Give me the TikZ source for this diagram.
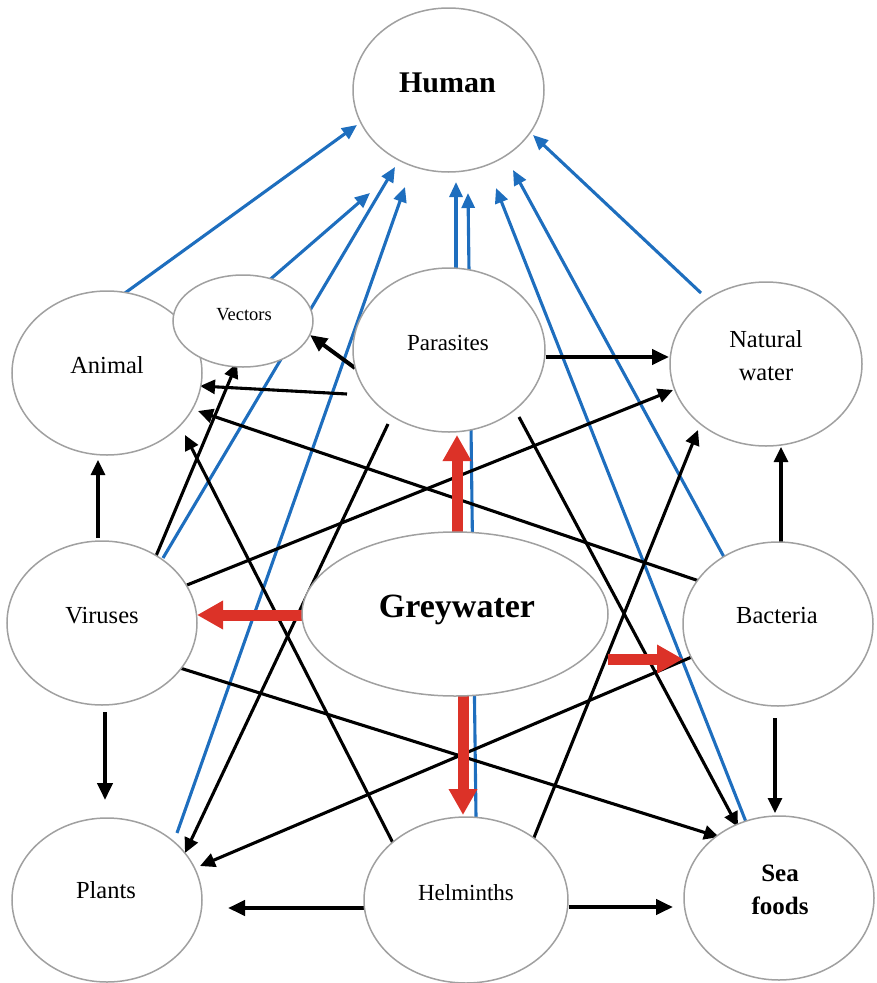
\documentclass[tikz,border=0pt]{standalone}
\usepackage{fontspec}
\setmainfont{Liberation Serif}
\usetikzlibrary{arrows.meta,calc,shapes.geometric}
\definecolor{ellgray}{RGB}{160,160,160}
\definecolor{bluec}{RGB}{30,110,190}
\definecolor{redc}{RGB}{220,50,40}
\pgfdeclarelayer{bg}
\pgfsetlayers{bg,main}
\begin{document}
\begin{tikzpicture}[x=1pt,y=-1pt,
  ell/.style={ellipse, draw=ellgray, line width=1.5pt, fill=white, inner sep=0pt},
  lbl/.style={anchor=base, inner sep=0pt, font=\fontsize{24.5}{26}\selectfont},
  blk/.style={draw=black, line width=3.1pt, -{Triangle[length=15pt,width=14pt]}},
  blkt/.style={draw=black, line width=4pt, -{Triangle[length=17pt,width=15pt]}},
  blu/.style={draw=bluec, line width=3.1pt, -{Triangle[length=15pt,width=13pt]}},
  rarr/.style={draw=redc, line width=11pt, -{Triangle[length=26pt,width=27pt]}}]
\useasboundingbox (0,0) rectangle (876,983);
% nodes
\node[ell, minimum width=191pt, minimum height=164pt] (hum) at (448.5,90) {};
\node[ell, minimum width=190pt, minimum height=164pt] (ani) at (107,373) {};
\node[ell, minimum width=140pt, minimum height=92pt] (vec) at (243,321) {};
\node[ell, minimum width=192pt, minimum height=164pt] (par) at (449,350) {};
\node[ell, minimum width=192pt, minimum height=164pt] (nat) at (766,364) {};
\node[ell, minimum width=190pt, minimum height=164pt] (vir) at (102,623) {};
\node[ell, minimum width=306pt, minimum height=164pt] (gre) at (455,614) {};
\node[ell, minimum width=190pt, minimum height=164pt] (bac) at (778,624) {};
\node[ell, minimum width=190pt, minimum height=164pt] (pla) at (107,900) {};
\node[ell, minimum width=204pt, minimum height=166pt] (hel) at (466,900) {};
\node[ell, minimum width=190pt, minimum height=164pt] (sea) at (779,898) {};
% labels
\node[lbl, font=\fontsize{30}{32}\selectfont\bfseries] (humt) at (447.5,92) {Human};
\node[lbl] (anit) at (107,373) {Animal};
\node[lbl, font=\fontsize{18.5}{20}\selectfont] (vect) at (244,320) {Vectors};
\node[lbl, font=\fontsize{23}{25}\selectfont] (part) at (448,350) {Parasites};
\node[lbl] (natt1) at (766,347) {Natural};
\node[lbl] (natt2) at (766,380) {water};
\node[lbl] (virt) at (102,623) {Viruses};
\node[lbl, font=\fontsize{34}{36}\selectfont\bfseries] (gret) at (457,617) {Greywater};
\node[lbl] (bact) at (777,623) {Bacteria};
\node[lbl] (plat) at (106,898) {Plants};
\node[lbl, font=\fontsize{23}{25}\selectfont] (helt) at (466,900) {Helminths};
\node[lbl, font=\fontsize{25}{27}\selectfont\bfseries] (seat1) at (780,881) {Sea};
\node[lbl, font=\fontsize{25}{27}\selectfont\bfseries] (seat2) at (780,914) {foods};
\begin{pgfonlayer}{bg}
% blue arrows to Human
\draw[blu] ($(ani)+(18,-80)$) -- ($(hum)+(-91.5,35)$);
\draw[blu] ($(vec)+(23,-38)$) -- ($(hum)+(-78.5,103)$);
\draw[blu] ($(vir)+(61,-65)$) -- ($(hum)+(-53.5,77)$);
\draw[blu] ($(pla)+(70,-67)$) -- ($(hum)+(-43.5,97)$);
\draw[blu] ($(par)+(7,-82)$) -- ($(hum)+(7.5,92)$);
\draw[blu] ($(hel)+(10,-83)$) -- ($(hum)+(19.5,103)$);
\draw[blu] ($(sea)+(-31,-71)$) -- ($(hum)+(47.5,98)$);
\draw[blu] ($(bac)+(-54,-67)$) -- ($(hum)+(64.5,80)$);
\draw[blu] ($(nat)+(-65,-71)$) -- ($(hum)+(84.5,45)$);
% black arrows
\draw[blkt] ($(par)+(-94,18)$) -- ($(vec)+(67,14)$);
\draw[blk] ($(par)+(-102,44)$) -- ($(ani)+(93,13)$);
\draw[blk] ($(bac)+(-73,-41)$) -- ($(ani)+(91,38)$);
\draw[blk] ($(hel)+(-72,-55)$) -- ($(ani)+(78,62)$);
\draw[blk] ($(vir)+(41,-36)$) -- ($(vec)+(-6,42)$);
\draw[blk] ($(vir)+(85,-38)$) -- ($(nat)+(-93,26)$);
\draw[blk] ($(par)+(-61,74)$) -- ($(pla)+(78,-47)$);
\draw[blk] ($(bac)+(-84,32)$) -- ($(pla)+(93,-34)$);
\draw[blk] ($(vir)+(78,45)$) -- ($(sea)+(-60,-61)$);
\draw[blk] ($(par)+(70,67)$) -- ($(sea)+(-41,-71)$);
\draw[blk] ($(hel)+(67,-60)$) -- ($(nat)+(-68,66)$);
\draw[blkt] ($(par)+(97,7)$) -- ($(nat)+(-97,-7)$);
\draw[blk] ($(vir)+(-4,-85)$) -- ($(ani)+(-9,87)$);
\draw[blkt] ($(vir)+(3,89)$) -- ($(pla)+(-2,-100)$);
\draw[blk] ($(bac)+(3,-82)$) -- ($(nat)+(15,83)$);
\draw[blk] ($(bac)+(-3,94)$) -- ($(sea)+(-4,-85)$);
\draw[blkt] ($(hel)+(-101,8)$) -- ($(pla)+(121,8)$);
\draw[blkt] ($(hel)+(103,7)$) -- ($(sea)+(-106,9)$);
% red arrows from Greywater
\draw[rarr] ($(gre)+(2,-82)$) -- ($(par)+(8,85)$);
\draw[rarr] ($(gre)+(-152,1)$) -- ($(vir)+(95,-8)$);
\draw[rarr] ($(gre)+(153,45)$) -- ($(bac)+(-95,35)$);
\draw[rarr] ($(gre)+(8,82)$) -- ($(hel)+(-3,-85)$);
\end{pgfonlayer}
\end{tikzpicture}
\end{document}
